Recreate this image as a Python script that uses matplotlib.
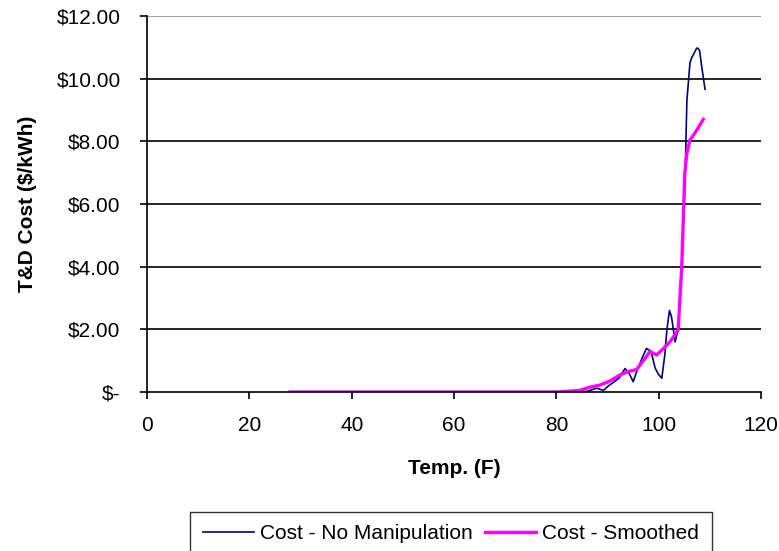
import matplotlib.pyplot as plt
from matplotlib.ticker import FuncFormatter

plt.rcParams['font.family'] = ['Liberation Sans', 'DejaVu Sans']

# raw cost vs temperature
temp_raw = [28, 40, 60, 80, 86, 87.9, 89.2, 90.2, 91.1, 92.3, 93.4, 94.2, 95.0, 95.8,
            96.8, 97.6, 98.5, 99.3, 100.0, 100.6, 101.2, 101.6, 102.1, 102.5, 103.2,
            103.8, 104.6, 105.2, 105.5, 106.1, 106.4, 107.4, 107.7, 108.0, 108.4, 109.05]
cost_raw = [0, 0, 0, 0, 0.02, 0.12, 0.05, 0.2, 0.3, 0.45, 0.75, 0.6, 0.33, 0.7,
            1.1, 1.39, 1.3, 0.76, 0.55, 0.44, 1.2, 2.0, 2.6, 2.4, 1.6,
            2.0, 4.5, 7.2, 9.3, 10.5, 10.65, 10.97, 10.97, 10.88, 10.38, 9.66]

# smoothed cost
temp_smooth = [28, 40, 60, 80, 84.6, 86.5, 88.5, 90.5, 92.4, 94.0, 95.7, 97.0, 98.3,
               99.6, 101.0, 102.2, 103.8, 104.5, 105.1, 105.5, 106.1, 106.8, 107.8, 108.7]
cost_smooth = [0, 0, 0, 0, 0.05, 0.15, 0.22, 0.35, 0.54, 0.65, 0.72, 1.0, 1.29,
               1.18, 1.4, 1.6, 1.98, 4.0, 6.98, 7.62, 8.04, 8.2, 8.45, 8.7]

fig = plt.figure(figsize=(7.79, 5.51), dpi=100)
ax = fig.add_axes([0.1887, 0.2886, 0.7883, 0.6824])

ax.plot(temp_raw, cost_raw, color='#000080', lw=1.2, label='Cost - No Manipulation')
ax.plot(temp_smooth, cost_smooth, color='#ff00ff', lw=2.4, label='Cost - Smoothed')

ax.set_xlim(0, 120)
ax.set_ylim(0, 12)
ax.set_xticks(range(0, 121, 20))
ax.set_yticks(range(0, 13, 2))
ax.yaxis.set_major_formatter(FuncFormatter(lambda v, p: '$-' if v == 0 else f'${v:.2f}'))

for y in range(2, 12, 2):
    ax.axhline(y, color='black', lw=1.2, zorder=0)
ax.axhline(12, color='#909090', lw=1.2, zorder=0)

ax.spines['top'].set_visible(False)
ax.spines['right'].set_visible(False)
ax.spines['left'].set_linewidth(1.2)
ax.spines['bottom'].set_linewidth(1.2)
ax.tick_params(direction='out', length=5, width=1.2, labelsize=15, colors='black')
ax.tick_params(axis='x', pad=12.5)
ax.tick_params(axis='y', pad=14)

ax.set_xlabel('Temp. (F)', fontsize=15, fontweight='bold', labelpad=17)
ax.set_ylabel('T&D Cost ($/kWh)', fontsize=15, fontweight='bold', labelpad=14)

leg = fig.legend(loc='upper center', bbox_to_anchor=(0.5788, 0.0713), ncol=2, fontsize=15,
                 frameon=True, fancybox=False, edgecolor='black', handlelength=2.45,
                 columnspacing=0.6, handletextpad=0.3, borderpad=0.6, borderaxespad=0)
leg.get_frame().set_linewidth(1.0)

fig.savefig('out.png', dpi=100)
